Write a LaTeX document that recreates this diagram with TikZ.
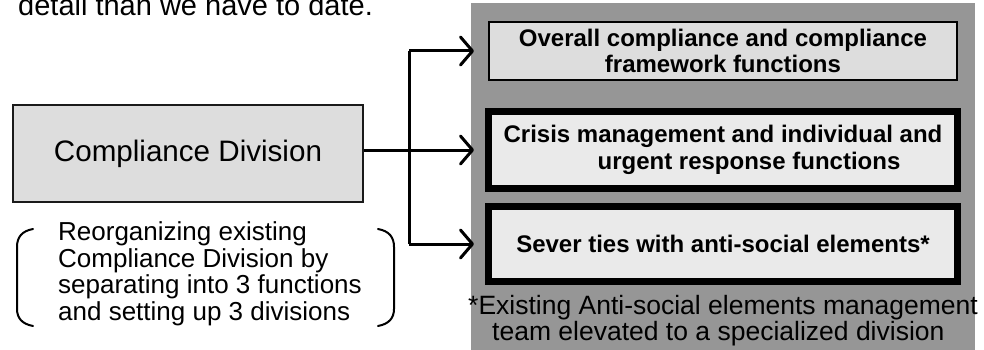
\documentclass[tikz,border=0pt]{standalone}
\usepackage{fontspec}
\setmainfont{Liberation Sans}
\usetikzlibrary{arrows.meta,calc}

\definecolor{panelgray}{HTML}{969696}
\definecolor{boxlight}{HTML}{DDDDDD}
\definecolor{boxpale}{HTML}{EAEAEA}
\definecolor{edgegray}{HTML}{1A1A1A}

\tikzset{
  funcbox/.style={draw=black, fill=boxpale, line width=7pt, inner sep=0pt,
    align=center, font=\fontsize{24}{27}\selectfont\bfseries},
  thinbox/.style={draw=black, fill=boxlight, line width=2pt, inner sep=0pt,
    align=center, font=\fontsize{24}{26}\selectfont\bfseries},
  divbox/.style={draw=edgegray, fill=boxlight, line width=2pt, inner sep=0pt,
    align=center, font=\fontsize{29.6}{33}\selectfont},
  conn/.style={line width=3pt},
  arr/.style={conn, -{Straight Barb[length=12pt,width=28pt,round]}},
  paren/.style={line width=2pt, line cap=round},
  plain/.style={inner sep=0pt, align=left}
}

\begin{document}
\begin{tikzpicture}[x=1pt,y=-1pt]
\useasboundingbox (0,0) rectangle (984,350);
\clip (0,0) rectangle (984,350);

% closing line of the preceding paragraph
\node[plain, anchor=base west, font=\fontsize{29}{33}\selectfont] (lead) at (18,16)
  {detail than we have to date.};

% grey panel holding the three new divisions
\fill[panelgray] (471,3) rectangle (975,352);

\node[thinbox, minimum width=468pt, minimum height=58pt] (b1) at (723,51)
  {Overall compliance and compliance\\framework functions};
\node[funcbox, minimum width=469pt, minimum height=77pt] (b2) at (723,150)
  {Crisis management and individual and\\\hspace*{52pt}urgent response functions};
\node[funcbox, minimum width=469pt, minimum height=75pt] (b3) at (723,244)
  {Sever ties with anti-social elements*};

% footnote; the base anchor sits on the last line
\node[plain, anchor=base west, font=\fontsize{26.5}{24}\selectfont] (note) at (468,340)
  {*Existing Anti-social elements management\\\hspace*{24pt}team elevated to a specialized division};

% existing division
\node[divbox, minimum width=350pt, minimum height=97pt] (cd) at (188,153.5)
  {Compliance Division};

\node[plain, anchor=base west, font=\fontsize{26}{26.5}\selectfont] (why) at (58,320)
  {Reorganizing existing\\Compliance Division by\\separating into 3 functions\\and setting up 3 divisions};

% brackets round the explanation
\draw[paren] (33,229) .. controls (22,231) and (17,237) .. (17,247)
  -- (17,309) .. controls (17,318) and (22,324) .. (33,326);
\draw[paren] (378,229) .. controls (389,231) and (394,237) .. (394,247)
  -- (394,309) .. controls (394,318) and (389,324) .. (378,326);

% split into three functions
\coordinate (jn) at (409,150);
\draw[conn] (jn |- b1.west) -- (jn |- b3.west);
\draw[conn] (cd.east |- b2.west) -- (jn);
\draw[arr] (jn) -- ([xshift=-11pt]b2.west);
\draw[arr] (jn |- b1.west) -- ([xshift=-14pt]b1.west);
\draw[arr] (jn |- b3.west) -- ([xshift=-11pt]b3.west);
\end{tikzpicture}
\end{document}
